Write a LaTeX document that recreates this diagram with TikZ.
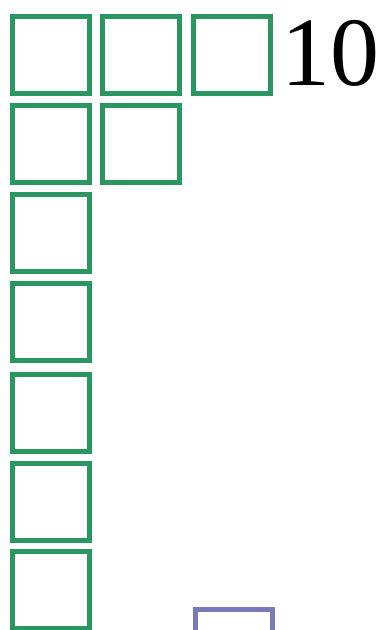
\documentclass[tikz,border=0pt]{standalone}
\usepackage{fontspec}
\setmainfont{Liberation Serif}
\definecolor{sqgreen}{RGB}{42,150,96}
\definecolor{sqblue}{RGB}{122,122,182}
\begin{document}
\begin{tikzpicture}[x=1pt,y=-1pt,
  gsq/.style={draw=sqgreen,line width=5pt,minimum size=77pt,inner sep=0pt,fill=white},
  bsq/.style={draw=sqblue,line width=5pt,minimum size=77pt,inner sep=0pt,fill=white}]
\useasboundingbox (0,0) rectangle (378,630);
\clip (0,0) rectangle (378,630);
\fill[white] (0,0) rectangle (378,630);
\node[gsq] (r1c1) at (51,55) {};
\node[gsq] (r1c2) at (141,55) {};
\node[gsq] (r1c3) at (231.5,55) {};
\node[gsq] (r2c1) at (51,144) {};
\node[gsq] (r2c2) at (141,144) {};
\node[gsq] (r3c1) at (51,232.5) {};
\node[gsq] (r4c1) at (51,321.5) {};
\node[gsq] (r5c1) at (51,412.5) {};
\node[gsq] (r6c1) at (51,502) {};
\node[gsq] (r7c1) at (51,590) {};
\node[bsq] (blue) at (234,648) {};
\node[anchor=base west,inner sep=0pt,font=\fontsize{98}{98}\selectfont] (label) at (281,85) {10};
\end{tikzpicture}
\end{document}
